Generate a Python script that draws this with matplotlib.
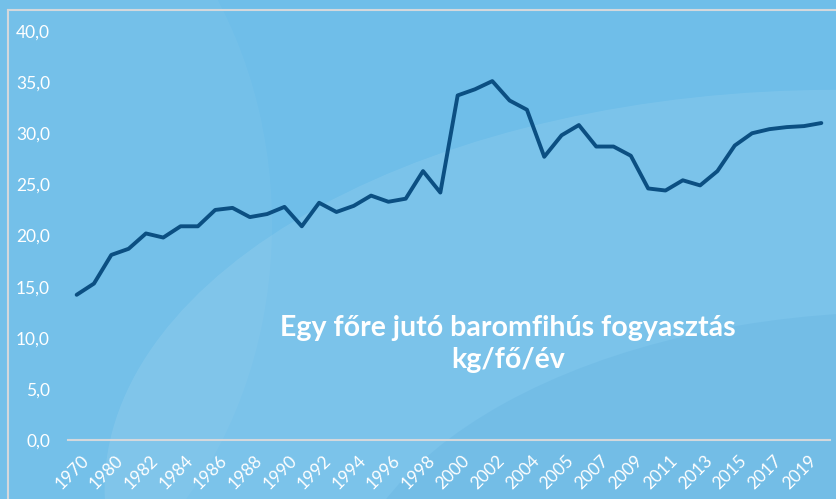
import numpy as np
import matplotlib
matplotlib.use("Agg")
import matplotlib.pyplot as plt
import matplotlib.transforms as mtransforms
from matplotlib.patches import Ellipse
from matplotlib.lines import Line2D

# Adatok (kg/fő/év)
years = ["1970", "1975", "1980", "1981", "1982", "1983", "1984", "1985", "1986",
         "1987", "1988", "1989", "1990", "1991", "1992", "1993", "1994", "1995",
         "1996", "1997", "1998", "1999", "2000", "2001", "2002", "2003", "2004",
         "2004b", "2005", "2006", "2007", "2008", "2009", "2010", "2011", "2012",
         "2013", "2014", "2015", "2016", "2017", "2018", "2019", "2020"]
consumption = [14.2, 15.3, 18.1, 18.7, 20.2, 19.8, 20.9, 20.9, 22.5, 22.7,
               21.8, 22.1, 22.8, 20.9, 23.2, 22.3, 22.9, 23.9, 23.3, 23.6,
               26.3, 24.2, 33.7, 34.3, 35.1, 33.2, 32.3, 27.7, 29.8, 30.8,
               28.7, 28.7, 27.8, 24.6, 24.4, 25.4, 24.9, 26.3, 28.8, 30.0,
               30.4, 30.6, 30.7, 31.0]
yticks = [0, 5, 10, 15, 20, 25, 30, 35, 40]
title = "Egy főre jutó baromfihús fogyasztás\nkg/fő/év"

bg = "#6fbee9"
fig = plt.figure(figsize=(8.37, 4.99), dpi=100, facecolor=bg)

# háttér ívek
fig.patches.append(Ellipse((1.0, 0.02), 1.75, 1.6, transform=fig.transFigure,
                           facecolor="#ffffff", alpha=0.09, edgecolor="none", zorder=0))
fig.patches.append(Ellipse((-0.05, 0.55), 0.75, 1.6, transform=fig.transFigure,
                           facecolor="#ffffff", alpha=0.04, edgecolor="none", zorder=0))
fig.patches.append(Ellipse((1.08, -0.25), 1.35, 1.25, transform=fig.transFigure,
                           facecolor="#4a9fd6", alpha=0.16, edgecolor="none", zorder=0))
# keret
fig.lines.append(Line2D([8 / 837, 1.0], [1 - 10 / 499, 1 - 10 / 499], transform=fig.transFigure,
                        color="#d4d8dc", lw=1.5))
fig.lines.append(Line2D([8 / 837, 8 / 837], [0, 1 - 10 / 499], transform=fig.transFigure,
                        color="#d4d8dc", lw=1.5))

ax = fig.add_axes([68 / 837, 1 - 440 / 499, 762 / 837, 409 / 499])
ax.set_zorder(3)
ax.set_facecolor("none")
x = np.arange(len(years))
ax.plot(x, consumption, color="#0b4f82", lw=2.8, solid_capstyle="round", solid_joinstyle="round")

ax.set_xlim(-0.5, len(years) - 0.5)
ax.set_ylim(0, 40)
for s in ["top", "right", "left"]:
    ax.spines[s].set_visible(False)
ax.spines["bottom"].set_color("#d4d8dc")
ax.spines["bottom"].set_linewidth(1.5)

ax.set_yticks(yticks)
ax.set_yticklabels([f"{v:.1f}".replace(".", ",") for v in yticks],
                   color="white", fontsize=12.5, family="Lato")
ax.set_xticks(x[::2])
ax.set_xticklabels([years[i] for i in range(0, len(years), 2)], rotation=45,
                   ha="right", rotation_mode="anchor", color="white", fontsize=12.5,
                   family="Lato")
ax.tick_params(axis="y", length=0, pad=13)
ax.tick_params(axis="x", length=0, pad=9)
shift = mtransforms.ScaledTranslation(4 / 100, 0, fig.dpi_scale_trans)
for lbl in ax.get_xticklabels():
    lbl.set_transform(lbl.get_transform() + shift)

fig.text(508 / 837, 1 - 344 / 499, title, ha="center", va="center", color="white",
         fontsize=20.5, fontweight="bold", family="Lato", linespacing=1.25, zorder=4)

fig.savefig("out.png", dpi=100, facecolor=bg)
